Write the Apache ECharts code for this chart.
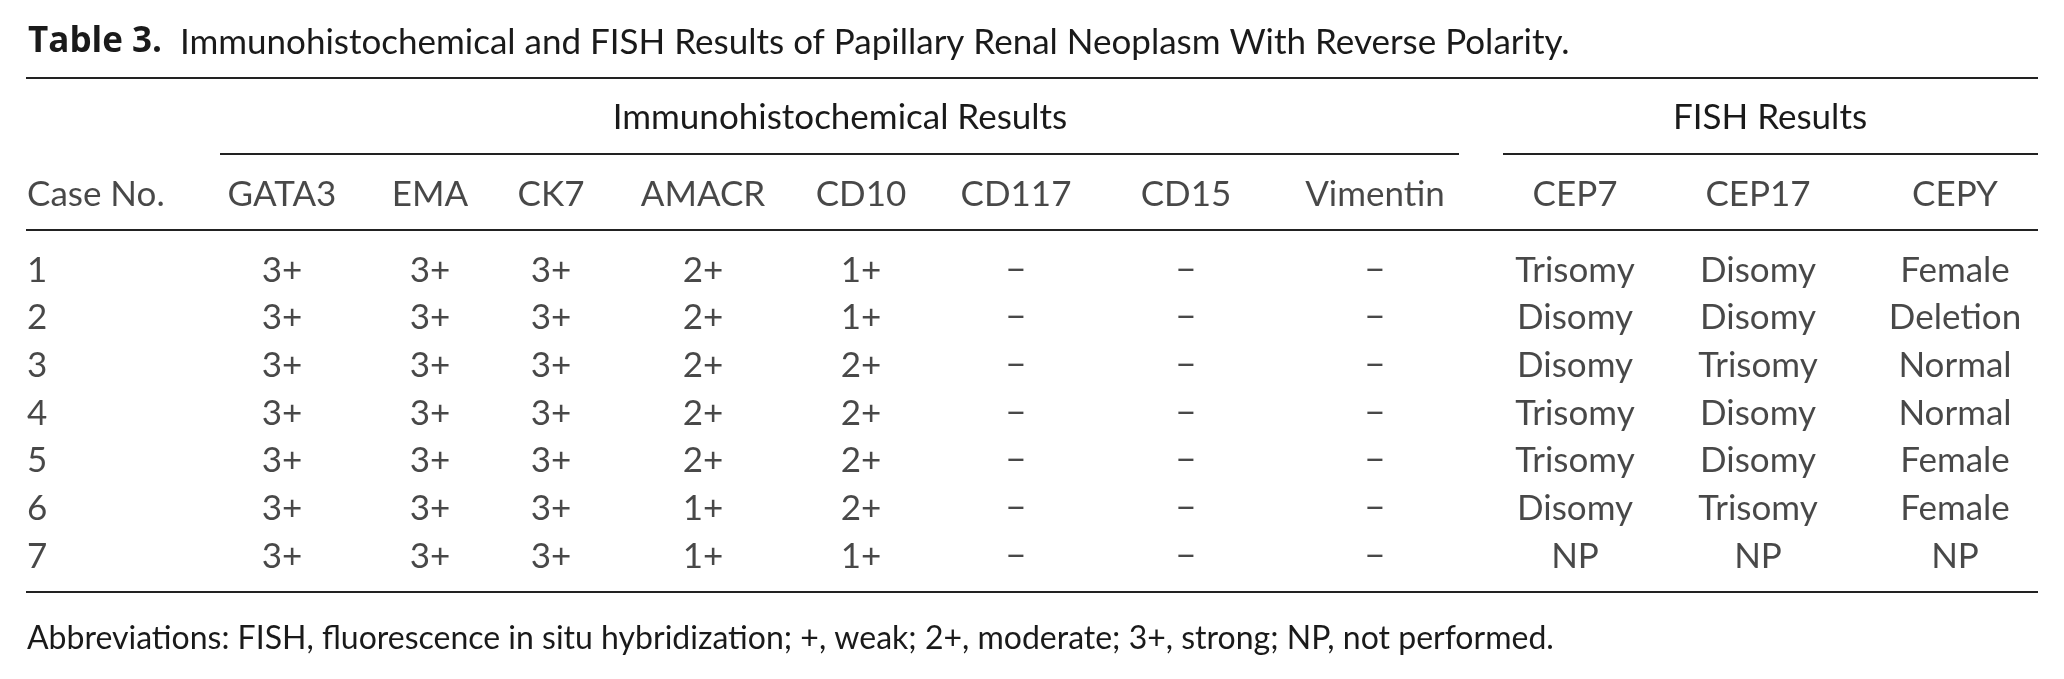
<!DOCTYPE html>
<html><head><meta charset="utf-8">
<script src="https://cdn.jsdelivr.net/npm/echarts@6/dist/echarts.min.js"></script>
<style>html,body{margin:0;padding:0;background:#fff}#c{width:2064px;height:679px}</style>
</head><body><div id="c"></div>
<script>
// ---- data ----
const titleBold = 'Table 3.';
const titleText = 'Immunohistochemical and FISH Results of Papillary Renal Neoplasm With Reverse Polarity.';
const groupHeaders = ['Immunohistochemical Results', 'FISH Results'];
const caseHeader = 'Case No.';
const columns = ['GATA3', 'EMA', 'CK7', 'AMACR', 'CD10', 'CD117', 'CD15', 'Vimentin', 'CEP7', 'CEP17', 'CEPY'];
const caseNo = ['1', '2', '3', '4', '5', '6', '7'];
const GATA3 = ['3+', '3+', '3+', '3+', '3+', '3+', '3+'];
const EMA = ['3+', '3+', '3+', '3+', '3+', '3+', '3+'];
const CK7 = ['3+', '3+', '3+', '3+', '3+', '3+', '3+'];
const AMACR = ['2+', '2+', '2+', '2+', '2+', '1+', '1+'];
const CD10 = ['1+', '1+', '2+', '2+', '2+', '2+', '1+'];
const CD117 = ['\u2212', '\u2212', '\u2212', '\u2212', '\u2212', '\u2212', '\u2212'];
const CD15 = ['\u2212', '\u2212', '\u2212', '\u2212', '\u2212', '\u2212', '\u2212'];
const Vimentin = ['\u2212', '\u2212', '\u2212', '\u2212', '\u2212', '\u2212', '\u2212'];
const CEP7 = ['Trisomy', 'Disomy', 'Disomy', 'Trisomy', 'Trisomy', 'Disomy', 'NP'];
const CEP17 = ['Disomy', 'Disomy', 'Trisomy', 'Disomy', 'Disomy', 'Trisomy', 'NP'];
const CEPY = ['Female', 'Deletion', 'Normal', 'Normal', 'Female', 'Female', 'NP'];
const footnote = 'Abbreviations: FISH, fluorescence in situ hybridization; +, weak; 2+, moderate; 3+, strong; NP, not performed.';

// ---- layout (not data) ----
const W = 2064, H = 679;
const FONT = 'Lato';
const INK = '#1a1a1a';
const FS = 35;
const colCenter = [282, 430, 551, 703, 861, 1016, 1186, 1375, 1575, 1758, 1955];
const caseX = 27;
const cols = [GATA3, EMA, CK7, AMACR, CD10, CD117, CD15, Vimentin, CEP7, CEP17, CEPY];

const bodyData = [];
caseNo.forEach((c, r) => {
  bodyData.push({ value: [caseX, r], name: c, label: { align: 'left' } });
  cols.forEach((col, i) => bodyData.push({ value: [colCenter[i], r], name: col[r] }));
});
const headData = [{ value: [caseX, 0], name: caseHeader, label: { align: 'left' } }];
columns.forEach((h, i) => headData.push({ value: [colCenter[i], 0], name: h }));

const textLabel = {
  show: true, position: 'inside', formatter: p => p.name,
  fontFamily: FONT, fontSize: FS, color: INK, align: 'center', verticalAlign: 'middle'
};

function hline(x1, x2, y, w) {
  return { type: 'line', silent: true, shape: { x1, y1: y, x2, y2: y }, style: { stroke: '#222', lineWidth: w || 2 } };
}

const chart = echarts.init(document.getElementById('c'), null, { renderer: 'canvas', width: W, height: H });
chart.setOption({
  backgroundColor: '#fff',
  animation: false,
  grid: [
    { left: 0, width: W, top: 246.5, height: 333.6 },
    { left: 0, width: W, top: 171, height: 48 }
  ],
  xAxis: [
    { type: 'value', gridIndex: 0, min: 0, max: W, show: false },
    { type: 'value', gridIndex: 1, min: 0, max: W, show: false }
  ],
  yAxis: [
    { type: 'category', gridIndex: 0, data: caseNo.map((c, i) => i), inverse: true, show: false },
    { type: 'category', gridIndex: 1, data: [0], show: false }
  ],
  series: [
    { type: 'scatter', xAxisIndex: 0, yAxisIndex: 0, symbolSize: 2, itemStyle: { color: 'rgba(0,0,0,0)' }, label: textLabel, data: bodyData, silent: true },
    { type: 'scatter', xAxisIndex: 1, yAxisIndex: 1, symbolSize: 2, itemStyle: { color: 'rgba(0,0,0,0)' }, label: textLabel, data: headData, silent: true }
  ],
  graphic: [
    { type: 'text', left: 28, top: 25, silent: true,
      style: { text: '{b|' + titleBold + '}  ' + titleText, fontFamily: FONT, fontSize: FS, fill: INK,
        rich: { b: { fontFamily: 'Open Sans', fontSize: FS, fontWeight: 'bold', fill: INK } } } },
    hline(26, 2038, 78),
    { type: 'text', x: 840, y: 118, silent: true, style: { text: groupHeaders[0], fontFamily: FONT, fontSize: FS, fill: INK, align: 'center', verticalAlign: 'middle' } },
    { type: 'text', x: 1770, y: 118, silent: true, style: { text: groupHeaders[1], fontFamily: FONT, fontSize: FS, fill: INK, align: 'center', verticalAlign: 'middle' } },
    hline(220, 1459, 154),
    hline(1503, 2038, 154),
    hline(26, 2038, 230),
    hline(26, 2038, 592),
    { type: 'text', x: 27, y: 639, silent: true, style: { text: footnote, fontFamily: FONT, fontSize: 32, fill: INK, align: 'left', verticalAlign: 'middle' } }
  ]
});
</script></body></html>
